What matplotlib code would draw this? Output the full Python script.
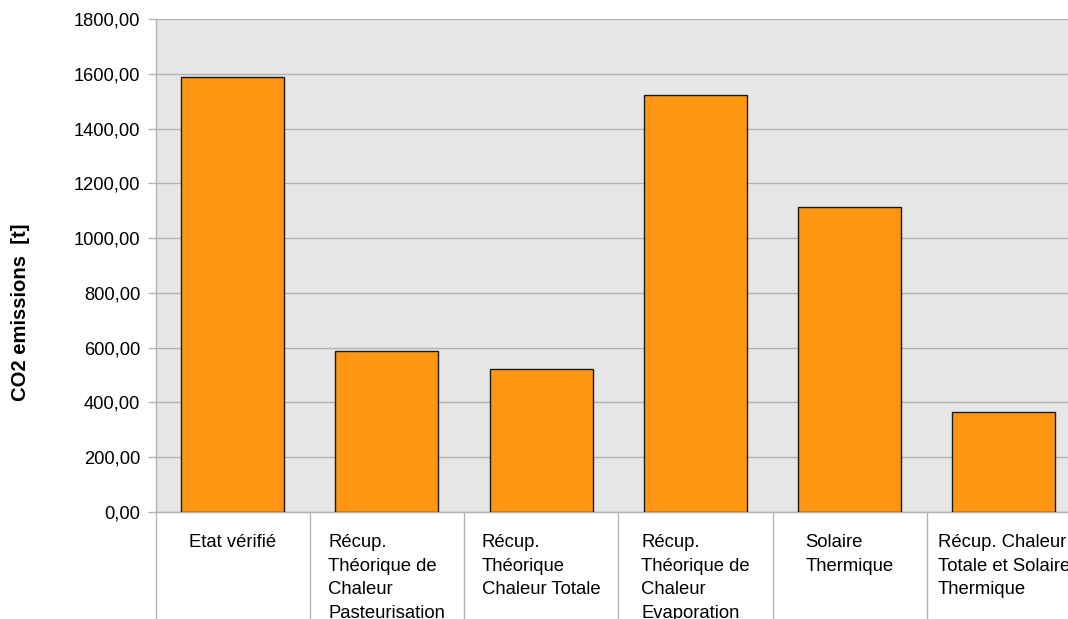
import matplotlib
matplotlib.use("Agg")
import matplotlib.pyplot as plt
from matplotlib.ticker import FuncFormatter, FixedLocator

plt.rcParams["font.family"] = ["Liberation Sans", "DejaVu Sans"]

# Emissions par scénario
categories = [
    "Etat vérifié",
    "Récup.\nThéorique de\nChaleur\nPasteurisation",
    "Récup.\nThéorique\nChaleur Totale",
    "Récup.\nThéorique de\nChaleur\nEvaporation",
    "Solaire\nThermique",
    "Récup. Chaleur\nTotale et Solaire\nThermique",
]
co2_values = [1590, 587, 523, 1523, 1113, 366]
y_ticks = [0, 200, 400, 600, 800, 1000, 1200, 1400, 1600, 1800]

W, H = 1068, 619
fig = plt.figure(figsize=(W / 100, H / 100), dpi=100)
# zone de tracé (le bord droit dépasse de l'image)
ax = fig.add_axes([155.5 / W, (H - 512) / H, (1081 - 155.5) / W, (512 - 19) / H])
ax.set_facecolor("#e6e6e6")

x = [i + 0.5 for i in range(len(categories))]
ax.bar(x, co2_values, width=0.667, color="#ff9612", edgecolor="#1a1a1a",
       linewidth=1.0, zorder=3)

ax.set_xlim(0, len(categories))
ax.set_ylim(0, 1800)
ax.set_yticks(y_ticks)
ax.yaxis.set_major_formatter(FuncFormatter(lambda v, p: f"{v:.2f}".replace(".", ",")))
ax.grid(axis="y", color="#b3b3b3", linewidth=1.0, zorder=1)

# séparateurs entre catégories + étiquettes centrées
ax.set_xticks(x)
ax.set_xticklabels(categories)
ax.xaxis.set_minor_locator(FixedLocator(range(len(categories) + 1)))
ax.tick_params(axis="x", which="major", length=0, pad=16, labelsize=13.3)
ax.tick_params(axis="x", which="minor", length=78, width=1.0, color="#b3b3b3")
ax.tick_params(axis="y", length=6, width=1.0, color="#b3b3b3", pad=5, labelsize=13.2)
for lab in ax.get_xticklabels():
    lab.set_multialignment("left")
    lab.set_linespacing(1.5)

for side in ["top", "right"]:
    ax.spines[side].set_visible(False)
for side in ["left", "bottom"]:
    ax.spines[side].set_color("#b3b3b3")
    ax.spines[side].set_linewidth(1.0)

fig.text(21 / W, 1 - 312 / H, "CO2 emissions  [t]", rotation=90, fontsize=14.6,
         fontweight="bold", ha="center", va="center")

fig.savefig("out.png", dpi=100)
